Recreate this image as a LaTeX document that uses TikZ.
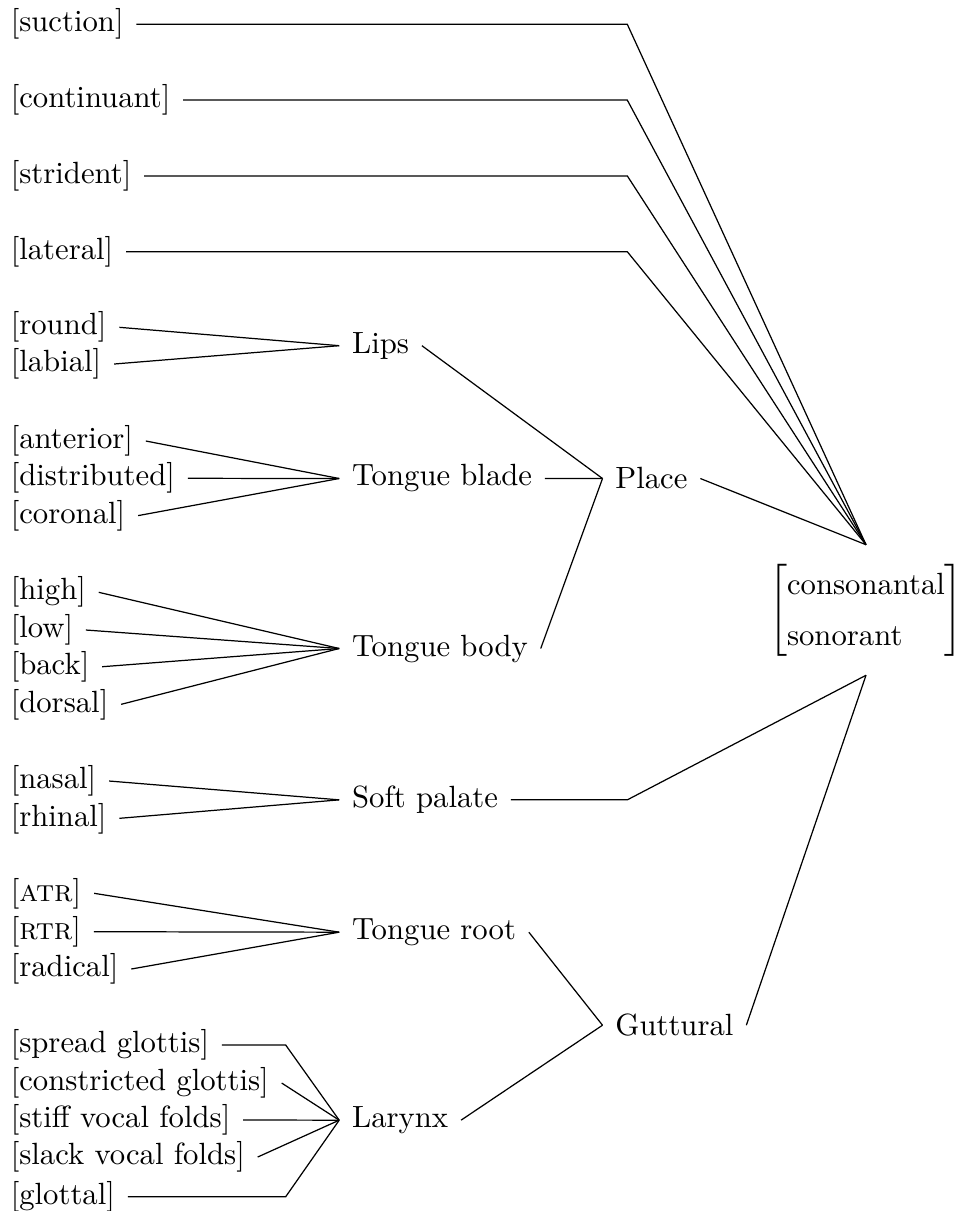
\documentclass[tikz,border=0pt]{standalone}
\usepackage{amsmath}
\begin{document}
\begin{tikzpicture}[x=0.32573pt, y=-0.32573pt,
  lbl/.style={anchor=base west, inner xsep=4pt, inner ysep=2pt},
  conn/.style={line width=0.4pt}]
\useasboundingbox (0,0) rectangle (955,1211);
% left labels
\node[lbl] (suction)     at (-2.1,32.0)  {[suction]};
\node[lbl] (continuant)  at (-2.1,107.8) {[continuant]};
\node[lbl] (strident)    at (-2.1,183.6) {[strident]};
\node[lbl] (lateral)     at (-2.1,259.4) {[lateral]};
\node[lbl] (round)       at (-2.1,335.0) {[round]};
\node[lbl] (labial)      at (-2.1,371.7) {[labial]};
\node[lbl] (anterior)    at (-2.1,448.7) {[anterior]};
\node[lbl] (distributed) at (-2.1,486.0) {[distributed]};
\node[lbl] (coronal)     at (-2.1,523.3) {[coronal]};
\node[lbl] (high)        at (-2.1,600.0) {[high]};
\node[lbl] (low)         at (-2.1,637.7) {[low]};
\node[lbl] (back)        at (-2.1,674.4) {[back]};
\node[lbl] (dorsal)      at (-2.1,712.0) {[dorsal]};
\node[lbl] (nasal)       at (-2.1,788.7) {[nasal]};
\node[lbl] (rhinal)      at (-2.1,826.0) {[rhinal]};
\node[lbl] (atr)         at (-2.1,901.0) {[\textsc{atr}]};
\node[lbl] (rtr)         at (-2.1,939.4) {[\textsc{rtr}]};
\node[lbl] (radical)     at (-2.1,976.7) {[radical]};
\node[lbl] (spread)      at (-2.1,1052.7) {[spread glottis]};
\node[lbl] (constricted) at (-2.1,1090.7) {[constricted glottis]};
\node[lbl] (stiff)       at (-2.1,1127.7) {[stiff vocal folds]};
\node[lbl] (slack)       at (-2.1,1164.7) {[slack vocal folds]};
\node[lbl] (glottal)     at (-2.1,1204.4) {[glottal]};
% middle nodes
\node[lbl] (lips)   at (339.2,353.2) {Lips};
\node[lbl] (blade)  at (339.2,486.0) {Tongue blade};
\node[lbl] (body)   at (339.2,656.0) {Tongue body};
\node[lbl] (soft)   at (339.2,807.7) {Soft palate};
\node[lbl] (root)   at (339.2,939.4) {Tongue root};
\node[lbl] (larynx) at (339.2,1127.5) {Larynx};
% right nodes
\node[lbl] (place)    at (602.5,489.0)  {Place};
\node[lbl] (guttural) at (602.5,1035.7) {Guttural};
\node[inner xsep=0pt, inner ysep=4.5pt] (M) at (866,610)
  {$\def\arraystretch{1.38}\left[\begin{array}{@{}l@{}}\text{consonantal}\\\text{sonorant}\end{array}\right]$};
% helper coordinates for bends
\coordinate (cx) at (627.3,0);
\coordinate (gx) at (285.7,0);
% connectors
\draw[conn] (suction.east) -- (suction.east -| cx) -- (M.north);
\draw[conn] (continuant.east) -- (continuant.east -| cx) -- (M.north);
\draw[conn] (strident.east) -- (strident.east -| cx) -- (M.north);
\draw[conn] (lateral.east) -- (lateral.east -| cx) -- (M.north);
\draw[conn] (round.east) -- (lips.west);
\draw[conn] (labial.east) -- (lips.west);
\draw[conn] (anterior.east) -- (blade.west);
\draw[conn] (distributed.east) -- (blade.west);
\draw[conn] (coronal.east) -- (blade.west);
\draw[conn] (high.east) -- (body.west);
\draw[conn] (low.east) -- (body.west);
\draw[conn] (back.east) -- (body.west);
\draw[conn] (dorsal.east) -- (body.west);
\draw[conn] (lips.east) -- (place.west);
\draw[conn] (blade.east) -- (place.west);
\draw[conn] (body.east) -- (place.west);
\draw[conn] (place.east) -- (M.north);
\draw[conn] (nasal.east) -- (soft.west);
\draw[conn] (rhinal.east) -- (soft.west);
\draw[conn] (soft.east) -- (soft.east -| cx) -- (M.south);
\draw[conn] (atr.east) -- (root.west);
\draw[conn] (rtr.east) -- (root.west);
\draw[conn] (radical.east) -- (root.west);
\draw[conn] (spread.east) -- (spread.east -| gx) -- (larynx.west);
\draw[conn] (constricted.east) -- (larynx.west);
\draw[conn] (stiff.east) -- (larynx.west);
\draw[conn] (slack.east) -- (larynx.west);
\draw[conn] (glottal.east) -- (glottal.east -| gx) -- (larynx.west);
\draw[conn] (root.east) -- (guttural.west);
\draw[conn] (larynx.east) -- (guttural.west);
\draw[conn] (guttural.east) -- (M.south);
\end{tikzpicture}
\end{document}
